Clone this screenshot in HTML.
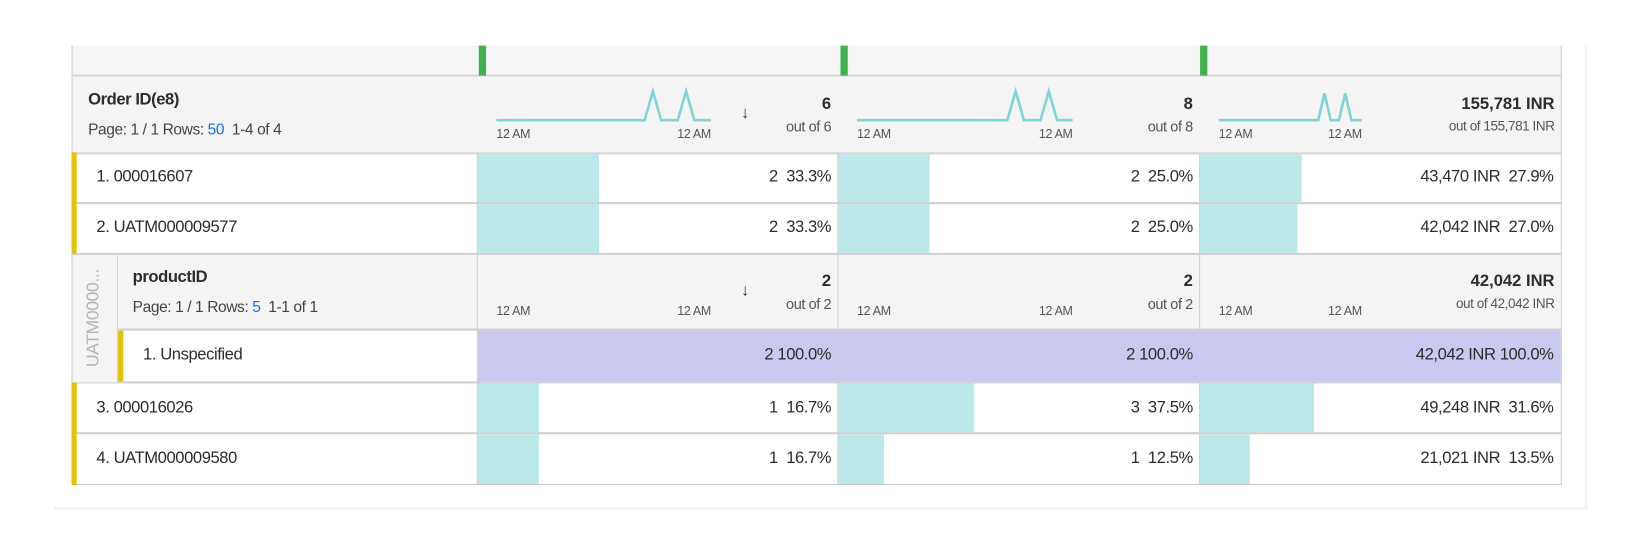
<!DOCTYPE html>
<html><head><meta charset="utf-8"><style>
body{margin:0;width:1625px;height:530px;background:#fff;position:relative;overflow:hidden;font-family:"Liberation Sans",sans-serif;color:#2c2c2c}
#w{position:absolute;left:0;top:0;width:1568px;height:512px;transform:scale(1.03635);transform-origin:0 0}
div{position:absolute;box-sizing:border-box}
.t{white-space:nowrap;font-size:16px;letter-spacing:-0.4px}
.r{text-align:right}
.hl{background:#d0d0d0}
.s{font-size:12px;color:#555;letter-spacing:-0.3px;white-space:nowrap}
.b{font-weight:bold;font-size:16px}
.o{font-size:14px;color:#555;white-space:nowrap;letter-spacing:-0.4px}
</style></head><body><div id="w">
<div style="left:52px;top:490px;width:1479px;height:1px;background:#e4e4e4"></div>
<div style="left:1530px;top:44px;width:1px;height:447px;background:#ececec"></div>
<div style="left:69px;top:44px;width:1438px;height:30px;background:#f5f5f5;border-left:1px solid #ccc;border-right:1px solid #ccc;border-bottom:2px solid #d6d6d6"></div>
<div style="left:462px;top:44px;width:7px;height:29px;background:#3fb14f"></div>
<div style="left:811px;top:44px;width:7px;height:29px;background:#3fb14f"></div>
<div style="left:1158px;top:44px;width:7px;height:29px;background:#3fb14f"></div>
<div style="left:69px;top:74px;width:1438px;height:74px;background:#f4f4f4;border-left:1px solid #ccc;border-right:1px solid #ccc"></div>
<div class="t" style="left:85px;top:88px;font-weight:bold;font-size:16px">Order ID(e8)</div>
<div class="t" style="left:85px;top:117px;font-size:15px;color:#444">Page: 1 / 1 Rows: <span style="color:#1473e6">50</span>&nbsp; 1-4 of 4</div>
<svg style="position:absolute;left:0;top:0" width="1625" height="530">
<polyline fill="none" stroke="#7fd4d6" stroke-width="2.5" points="479,116 622,116 630,88 638,116 654,116 662,88 670,116 686,116"/>
<polyline fill="none" stroke="#7fd4d6" stroke-width="2.5" points="827,116 972,116 980,88 988,116 1004,116 1012,88 1020,116 1035,116"/>
<polyline fill="none" stroke="#7fd4d6" stroke-width="2.5" points="1176,116 1272,116 1278,90 1284,116 1292,116 1298,90 1304,116 1314,116"/>
<line x1="479" y1="288" x2="686" y2="288" stroke="#a49be0" stroke-width="2.5"/>
<line x1="827" y1="288" x2="1035" y2="288" stroke="#a49be0" stroke-width="2.5"/>
<line x1="1176" y1="288" x2="1314" y2="288" stroke="#a49be0" stroke-width="2.5"/>
</svg>
<div class="s" style="left:479px;top:122px">12 AM</div><div class="s r" style="left:606px;top:122px;width:80px">12 AM</div>
<div class="s" style="left:827px;top:122px">12 AM</div><div class="s r" style="left:955px;top:122px;width:80px">12 AM</div>
<div class="s" style="left:1176px;top:122px">12 AM</div><div class="s r" style="left:1234px;top:122px;width:80px">12 AM</div>
<div class="t" style="left:715px;top:101px;font-size:16px">↓</div>
<div class="b r" style="left:700px;top:92px;width:102px">6</div>
<div class="o r" style="left:700px;top:114px;width:102px">out of 6</div>
<div class="b r" style="left:1050px;top:92px;width:101px">8</div>
<div class="o r" style="left:1050px;top:114px;width:101px">out of 8</div>
<div class="b r" style="left:1320px;top:92px;width:180px">155,781 INR</div>
<div class="o r" style="left:1320px;top:114px;width:180px;font-size:13px">out of 155,781 INR</div>
<div style="left:69px;top:147px;width:1438px;height:321px;border:1px solid #ccc;border-top:2px solid #d6d6d6"></div>
<div class="hl" style="left:69px;top:195px;width:1438px;height:2px"></div>
<div class="hl" style="left:69px;top:244px;width:1438px;height:2px"></div>
<div class="hl" style="left:69px;top:368px;width:1438px;height:2px"></div>
<div class="hl" style="left:69px;top:417px;width:1438px;height:2px"></div>
<div style="left:69px;top:147px;width:5px;height:98px;background:#e4c300"></div>
<div style="left:69px;top:369px;width:5px;height:99px;background:#e4c300"></div>
<div style="left:461px;top:149px;width:117px;height:46px;background:#bbe9ea"></div>
<div style="left:809px;top:149px;width:88px;height:46px;background:#bbe9ea"></div>
<div style="left:1158px;top:149px;width:98px;height:46px;background:#bbe9ea"></div>
<div style="left:461px;top:197px;width:117px;height:47px;background:#bbe9ea"></div>
<div style="left:809px;top:197px;width:88px;height:47px;background:#bbe9ea"></div>
<div style="left:1158px;top:197px;width:94px;height:47px;background:#bbe9ea"></div>
<div style="left:461px;top:370px;width:59px;height:47px;background:#bbe9ea"></div>
<div style="left:809px;top:370px;width:131px;height:47px;background:#bbe9ea"></div>
<div style="left:1158px;top:370px;width:110px;height:47px;background:#bbe9ea"></div>
<div style="left:461px;top:419px;width:59px;height:48px;background:#bbe9ea"></div>
<div style="left:809px;top:419px;width:44px;height:48px;background:#bbe9ea"></div>
<div style="left:1158px;top:419px;width:48px;height:48px;background:#bbe9ea"></div>
<div style="left:70px;top:246px;width:44px;height:123px;background:#f4f4f4;border-right:1px solid #d0d0d0"></div>
<div class="t" style="left:90px;top:307px;transform:translate(-50%,-50%) rotate(-90deg);color:#b5b5b5;font-size:17px">UATM0000...</div>
<div style="left:114px;top:246px;width:1392px;height:72px;background:#f4f4f4"></div>
<div class="hl" style="left:114px;top:317px;width:1392px;height:2px"></div>
<div style="left:114px;top:319px;width:5px;height:49px;background:#e4c300"></div>
<div style="left:461px;top:319px;width:1045px;height:49px;background:#c9c8ef"></div>
<div class="t" style="left:128px;top:259px;font-weight:bold">productID</div>
<div class="t" style="left:128px;top:288px;font-size:15px;color:#444">Page: 1 / 1 Rows: <span style="color:#1473e6">5</span>&nbsp; 1-1 of 1</div>
<div class="s" style="left:479px;top:293px">12 AM</div><div class="s r" style="left:606px;top:293px;width:80px">12 AM</div>
<div class="s" style="left:827px;top:293px">12 AM</div><div class="s r" style="left:955px;top:293px;width:80px">12 AM</div>
<div class="s" style="left:1176px;top:293px">12 AM</div><div class="s r" style="left:1234px;top:293px;width:80px">12 AM</div>
<div class="t" style="left:715px;top:272px">↓</div>
<div class="b r" style="left:700px;top:263px;width:102px">2</div>
<div class="o r" style="left:700px;top:285px;width:102px">out of 2</div>
<div class="b r" style="left:1050px;top:263px;width:101px">2</div>
<div class="o r" style="left:1050px;top:285px;width:101px">out of 2</div>
<div class="b r" style="left:1320px;top:263px;width:180px">42,042 INR</div>
<div class="o r" style="left:1320px;top:285px;width:180px;font-size:13px">out of 42,042 INR</div>
<div style="left:460px;top:147px;width:1px;height:321px;background:#d0d0d0"></div>
<div style="left:808px;top:147px;width:1px;height:321px;background:#d0d0d0"></div>
<div style="left:1157px;top:147px;width:1px;height:321px;background:#d0d0d0"></div>
<div class="t" style="left:93px;top:162px">1. 000016607</div>
<div class="t r" style="left:600px;top:162px;width:202px">2&nbsp; 33.3%</div>
<div class="t r" style="left:950px;top:162px;width:201px">2&nbsp; 25.0%</div>
<div class="t r" style="left:1300px;top:162px;width:199px">43,470 INR&nbsp; 27.9%</div>
<div class="t" style="left:93px;top:211px">2. UATM000009577</div>
<div class="t r" style="left:600px;top:211px;width:202px">2&nbsp; 33.3%</div>
<div class="t r" style="left:950px;top:211px;width:201px">2&nbsp; 25.0%</div>
<div class="t r" style="left:1300px;top:211px;width:199px">42,042 INR&nbsp; 27.0%</div>
<div class="t" style="left:138px;top:334px">1. Unspecified</div>
<div class="t r" style="left:600px;top:334px;width:202px">2&nbsp;100.0%</div>
<div class="t r" style="left:950px;top:334px;width:201px">2&nbsp;100.0%</div>
<div class="t r" style="left:1300px;top:334px;width:199px">42,042 INR&nbsp;100.0%</div>
<div class="t" style="left:93px;top:385px">3. 000016026</div>
<div class="t r" style="left:600px;top:385px;width:202px">1&nbsp; 16.7%</div>
<div class="t r" style="left:950px;top:385px;width:201px">3&nbsp; 37.5%</div>
<div class="t r" style="left:1300px;top:385px;width:199px">49,248 INR&nbsp; 31.6%</div>
<div class="t" style="left:93px;top:434px">4. UATM000009580</div>
<div class="t r" style="left:600px;top:434px;width:202px">1&nbsp; 16.7%</div>
<div class="t r" style="left:950px;top:434px;width:201px">1&nbsp; 12.5%</div>
<div class="t r" style="left:1300px;top:434px;width:199px">21,021 INR&nbsp; 13.5%</div>
</div></body></html>
